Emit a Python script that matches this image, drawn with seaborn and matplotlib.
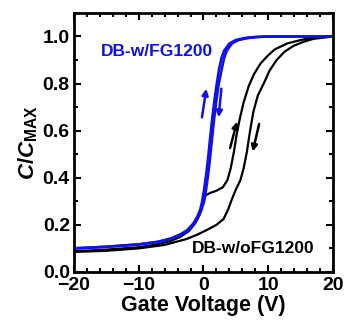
import numpy as np
import pandas as pd
import seaborn as sns
import matplotlib.pyplot as plt
from matplotlib.ticker import MultipleLocator

# C-V sweeps (gate voltage in V, normalised capacitance)
v_blue_fwd = [-20, -15, -10, -7, -5, -3.5, -2.5, -1.6, -1.0, -0.5, -0.2, 0.1, 0.4, 0.7, 1.0, 1.3, 1.7, 2.0, 2.4, 2.8, 3.2, 4.0, 5.0, 6.5, 8, 10, 15, 20]
c_blue_fwd = [0.10, 0.107, 0.117, 0.128, 0.142, 0.16, 0.178, 0.205, 0.232, 0.265, 0.30, 0.35, 0.41, 0.48, 0.56, 0.64, 0.73, 0.79, 0.86, 0.91, 0.94, 0.97, 0.985, 0.994, 0.998, 1.0, 1.0, 1.0]
v_blue_rev = [-20, -15, -10, -7, -5, -3.5, -2.3, -1.4, -0.8, -0.3, 0.1, 0.4, 0.7, 1.0, 1.3, 1.6, 2.0, 2.3, 2.8, 3.2, 3.6, 4.4, 5.4, 7.0, 8.5, 10, 15, 20]
c_blue_rev = [0.10, 0.107, 0.117, 0.128, 0.142, 0.16, 0.178, 0.205, 0.232, 0.265, 0.30, 0.35, 0.41, 0.48, 0.56, 0.64, 0.73, 0.79, 0.86, 0.91, 0.94, 0.97, 0.985, 0.994, 0.998, 1.0, 1.0, 1.0]
v_blk_fwd = [-20, -15, -10, -7, -5, -3.5, -2.2, -1.2, -0.5, -0.1, 0.3, 1.0, 2.0, 3.0, 3.7, 4.2, 4.7, 5.1, 5.6, 6.2, 7.0, 7.8, 8.8, 9.8, 11.0, 12.9, 15, 17, 20]
c_blk_fwd = [0.088, 0.095, 0.105, 0.118, 0.132, 0.15, 0.175, 0.21, 0.25, 0.30, 0.325, 0.335, 0.345, 0.36, 0.39, 0.44, 0.51, 0.58, 0.65, 0.72, 0.79, 0.84, 0.885, 0.915, 0.945, 0.97, 0.985, 0.995, 1.0]
v_blk_rev = [-20, -15, -10, -6, -2.6, -1.0, 0.5, 2.0, 3.1, 3.8, 4.4, 5.0, 5.7, 6.2, 6.7, 7.2, 7.7, 8.4, 9.3, 10.2, 11.3, 12.5, 13.9, 15.5, 17, 20]
c_blk_rev = [0.085, 0.09, 0.1, 0.115, 0.14, 0.158, 0.178, 0.2, 0.225, 0.265, 0.31, 0.35, 0.39, 0.44, 0.51, 0.60, 0.68, 0.75, 0.80, 0.855, 0.90, 0.935, 0.96, 0.978, 0.99, 1.0]

x_ticks = [-20, -10, 0, 10, 20]
x_labels = ['\u221220', '\u221210', '0', '10', '20']
y_ticks = [0, 0.2, 0.4, 0.6, 0.8, 1.0]
y_labels = ['0.0', '0.2', '0.4', '0.6', '0.8', '1.0']

sns.set_style("ticks")
plt.rcParams['font.family'] = ['Liberation Sans', 'DejaVu Sans']
plt.rcParams['font.weight'] = 'bold'
plt.rcParams['mathtext.fontset'] = 'custom'
plt.rcParams['mathtext.rm'] = 'Liberation Sans:bold'
plt.rcParams['mathtext.it'] = 'Liberation Sans:italic:bold'
plt.rcParams['mathtext.bf'] = 'Liberation Sans:bold'
for k in ['text.color', 'axes.labelcolor', 'xtick.color', 'ytick.color', 'axes.edgecolor']:
    plt.rcParams[k] = 'black'

fig, ax = plt.subplots(figsize=(3.44, 3.23), dpi=100)
fig.subplots_adjust(left=0.215, right=0.968, top=0.96, bottom=0.158)

curves = [(v_blk_fwd, c_blk_fwd, 'black', 1.6),
          (v_blk_rev, c_blk_rev, 'black', 1.6),
          (v_blue_fwd, c_blue_fwd, '#1010ee', 1.9),
          (v_blue_rev, c_blue_rev, '#1010ee', 1.9)]
for v, c, col, lw in curves:
    df = pd.DataFrame({'V': v, 'C': c})
    sns.lineplot(data=df, x='V', y='C', sort=False, color=col, lw=lw, ax=ax)

# sweep direction arrows
arr = dict(arrowstyle='-|>', lw=1.8, mutation_scale=9)
ax.annotate('', xy=(0.5, 0.79), xytext=(-0.3, 0.645), arrowprops=dict(color='#1010ee', **arr))
ax.annotate('', xy=(2.3, 0.645), xytext=(2.8, 0.79), arrowprops=dict(color='#1010ee', **arr))
ax.annotate('', xy=(5.3, 0.65), xytext=(4.0, 0.515), arrowprops=dict(color='black', **arr))
ax.annotate('', xy=(7.5, 0.50), xytext=(8.7, 0.64), arrowprops=dict(color='black', **arr))

ax.text(-7.2, 0.935, 'DB-w/FG1200', color='#1010ee', fontsize=12.5, fontweight='bold', ha='center', va='center')
ax.text(7.6, 0.10, 'DB-w/oFG1200', color='black', fontsize=12.5, fontweight='bold', ha='center', va='center')

ax.set_xlim(-20, 20)
ax.set_ylim(0, 1.1)
ax.set_xticks(x_ticks)
ax.set_xticklabels(x_labels)
ax.set_yticks(y_ticks)
ax.set_yticklabels(y_labels)
ax.xaxis.set_minor_locator(MultipleLocator(2))
ax.yaxis.set_minor_locator(MultipleLocator(0.1))
ax.tick_params(which='both', direction='in', top=True, right=True, width=1.5, labelsize=14)
ax.tick_params(axis='x', pad=3.5)
ax.tick_params(axis='y', pad=3)
ax.tick_params(which='major', length=5)
ax.tick_params(which='minor', length=3)
for s in ax.spines.values():
    s.set_linewidth(2)
ax.set_xlabel('Gate Voltage (V)', fontsize=15.5, fontweight='bold', labelpad=1)
ax.set_ylabel(r'$C/C_{\mathrm{MAX}}$', fontsize=16, labelpad=2)

fig.savefig('out.png', dpi=100)
